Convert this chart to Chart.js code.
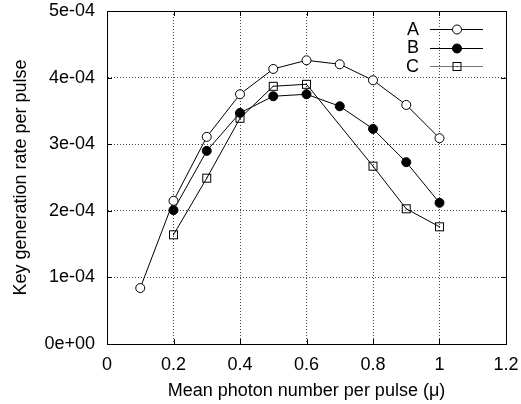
<!DOCTYPE html>
<html>
<head>
<meta charset="utf-8">
<script src="https://cdn.jsdelivr.net/npm/chart.js@4.4.1/dist/chart.umd.min.js"></script>
<style>
html,body{margin:0;padding:0;background:#fff;}
#wrap{width:521px;height:404px;}
</style>
</head>
<body>
<div id="wrap"><canvas id="c" width="521" height="404"></canvas></div>
<script>
const seriesNames = ['A', 'B', 'C'];
const xA = [0.1, 0.2, 0.3, 0.4, 0.5, 0.6, 0.7, 0.8, 0.9, 1.0];
const yA = [8.4e-5, 2.15e-4, 3.11e-4, 3.75e-4, 4.13e-4, 4.26e-4, 4.20e-4, 3.96e-4, 3.59e-4, 3.09e-4];
const xB = [0.2, 0.3, 0.4, 0.5, 0.6, 0.7, 0.8, 0.9, 1.0];
const yB = [2.01e-4, 2.90e-4, 3.47e-4, 3.72e-4, 3.75e-4, 3.57e-4, 3.23e-4, 2.73e-4, 2.12e-4];
const xC = [0.2, 0.3, 0.4, 0.5, 0.6, 0.8, 0.9, 1.0];
const yC = [1.64e-4, 2.49e-4, 3.39e-4, 3.87e-4, 3.90e-4, 2.67e-4, 2.03e-4, 1.76e-4];
const xTickLabels = ['0', '0.2', '0.4', '0.6', '0.8', '1', '1.2'];
const yTickLabels = ['0e+00', '1e-04', '2e-04', '3e-04', '4e-04', '5e-04'];
const xTitle = 'Mean photon number per pulse (\u03bc)';
const yTitle = 'Key generation rate per pulse';

const FONT = 'Liberation Sans, Arial, Helvetica, sans-serif';
const FS = 18;
const toPts = (xs, ys) => xs.map((x, i) => ({x: x, y: ys[i]}));

// square marker with a centre dot
function makeSquare() {
  const c = document.createElement('canvas');
  c.width = 11; c.height = 11;
  const g = c.getContext('2d');
  g.strokeStyle = '#000'; g.lineWidth = 1;
  g.strokeRect(1.5, 1.5, 8, 8);
  g.fillStyle = '#000';
  g.fillRect(5, 5, 1, 1);
  return c;
}
const squareImg = makeSquare();

const styles = [
  {pointStyle: 'circle', pointRadius: 4.5, pointBackgroundColor: '#fff', legendLine: '#000'},
  {pointStyle: 'circle', pointRadius: 4.5, pointBackgroundColor: '#000', legendLine: '#000'},
  {pointStyle: squareImg, pointRadius: 5.5, pointBackgroundColor: 'rgba(255,255,255,0)', legendLine: '#777'}
];
const allX = [xA, xB, xC], allY = [yA, yB, yC];

const datasets = seriesNames.map((n, i) => Object.assign({
  label: n,
  data: toPts(allX[i], allY[i]),
  borderColor: '#000',
  borderWidth: 1,
  pointBorderColor: '#000',
  pointBorderWidth: 1,
  showLine: true,
  tension: 0,
  fill: false
}, styles[i]));

const framePlugin = {
  id: 'frame',
  afterDraw(chart) {
    const ctx = chart.ctx, a = chart.chartArea;
    const xs = chart.scales.x, ys = chart.scales.y;
    ctx.save();
    ctx.strokeStyle = '#000';
    ctx.lineWidth = 1;
    ctx.setLineDash([]);
    ctx.strokeRect(Math.round(a.left) + 0.5, Math.round(a.top) + 0.5, Math.round(a.right - a.left), Math.round(a.bottom - a.top));
    const L = 5;
    ctx.beginPath();
    xs.ticks.forEach(t => {
      const px = Math.round(xs.getPixelForValue(t.value)) + 0.5;
      ctx.moveTo(px, a.bottom); ctx.lineTo(px, a.bottom - L);
      ctx.moveTo(px, a.top); ctx.lineTo(px, a.top + L);
    });
    ys.ticks.forEach(t => {
      const py = Math.round(ys.getPixelForValue(t.value)) + 0.5;
      ctx.moveTo(a.left, py); ctx.lineTo(a.left + L, py);
      ctx.moveTo(a.right, py); ctx.lineTo(a.right - L, py);
    });
    ctx.stroke();

    // legend
    ctx.font = FS + 'px ' + FONT;
    ctx.textAlign = 'right';
    ctx.textBaseline = 'middle';
    chart.data.datasets.forEach((ds, i) => {
      const y = 29 + i * 18.5;
      ctx.fillStyle = '#000';
      ctx.fillText(ds.label, 419, y + 1);
      ctx.beginPath();
      ctx.moveTo(430, Math.round(y) + 0.5); ctx.lineTo(483, Math.round(y) + 0.5);
      ctx.strokeStyle = ds.legendLine; ctx.lineWidth = 1;
      ctx.stroke();
      ctx.fillStyle = ds.pointBackgroundColor;
      ctx.strokeStyle = '#000';
      Chart.helpers.drawPoint(ctx, {pointStyle: ds.pointStyle, radius: ds.pointRadius, borderWidth: 1, rotation: 0}, 457, Math.round(y) + 0.5);
    });
    ctx.restore();
  }
};

function noPad(s) {
  s.paddingTop = 0; s.paddingBottom = 0; s.paddingLeft = 0; s.paddingRight = 0;
}

new Chart(document.getElementById('c'), {
  type: 'scatter',
  data: {datasets: datasets},
  options: {
    responsive: false,
    animation: false,
    devicePixelRatio: 1,
    layout: {padding: {left: 0, right: 15, top: 11, bottom: 0}},
    plugins: {legend: {display: false}, tooltip: {enabled: false}},
    scales: {
      x: {
        type: 'linear', min: 0, max: 1.2,
        afterFit: s => { s.height = 60; noPad(s); },
        ticks: {
          stepSize: 0.2, padding: 10, color: '#000', maxRotation: 0, autoSkip: false,
          font: {family: FONT, size: FS},
          callback: (v) => xTickLabels[Math.round(v / 0.2)]
        },
        grid: {color: '#444', lineWidth: 1, drawTicks: false},
        border: {display: true, color: '#000', width: 1, dash: [1, 2]},
        title: {display: true, text: xTitle, color: '#000', font: {family: FONT, size: FS}, padding: {top: 0, bottom: 2}}
      },
      y: {
        type: 'linear', min: 0, max: 5e-4,
        afterFit: s => { s.width = 107; noPad(s); },
        ticks: {
          stepSize: 1e-4, padding: 12, color: '#000', autoSkip: false,
          font: {family: FONT, size: FS},
          callback: (v) => yTickLabels[Math.round(v / 1e-4)]
        },
        grid: {color: '#444', lineWidth: 1, drawTicks: false},
        border: {display: true, color: '#000', width: 1, dash: [1, 2]},
        title: {display: true, text: yTitle, color: '#000', font: {family: FONT, size: FS}, padding: {top: 10, bottom: 0}}
      }
    }
  },
  plugins: [framePlugin]
});
</script>
</body>
</html>
